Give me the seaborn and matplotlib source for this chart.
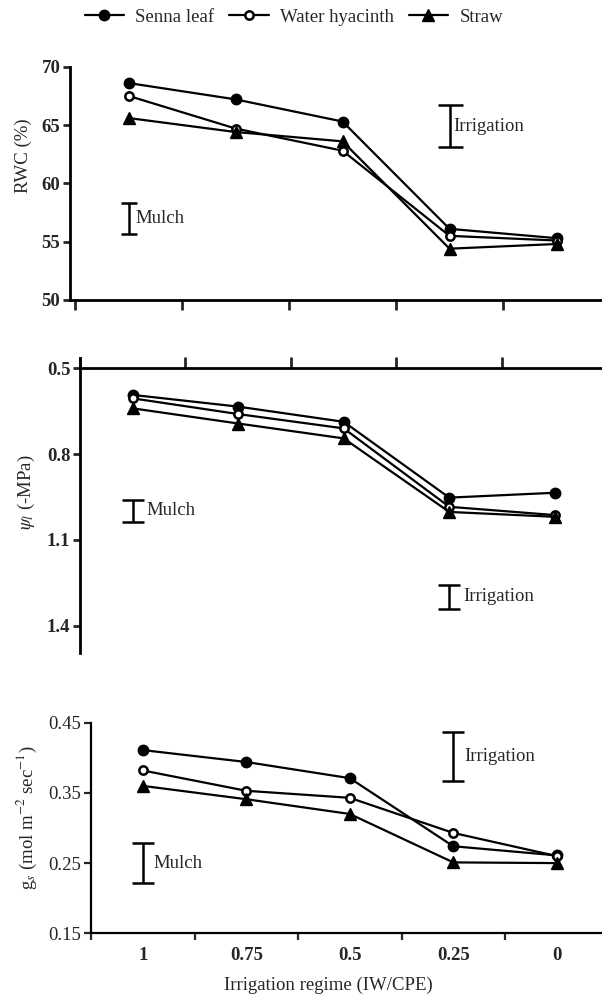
import matplotlib
matplotlib.use('Agg')
import matplotlib.pyplot as plt
import pandas as pd
import seaborn as sns

regimes = ['1', '0.75', '0.5', '0.25', '0']
mulches = ['Senna leaf', 'Water hyacinth', 'Straw']

rwc_senna = [68.6, 67.2, 65.3, 56.1, 55.3]
rwc_hyacinth = [67.5, 64.7, 62.8, 55.5, 55.1]
rwc_straw = [65.6, 64.4, 63.6, 54.4, 54.8]

psi_senna = [0.593, 0.634, 0.687, 0.952, 0.935]
psi_hyacinth = [0.605, 0.660, 0.710, 0.984, 1.013]
psi_straw = [0.640, 0.693, 0.745, 1.002, 1.019]

gs_senna = [0.411, 0.394, 0.371, 0.274, 0.261]
gs_hyacinth = [0.382, 0.353, 0.343, 0.293, 0.260]
gs_straw = [0.360, 0.341, 0.320, 0.251, 0.250]

# LSD bars: (centre, half length)
rwc_mulch_lsd = (57.0, 1.3)
rwc_irr_lsd = (64.9, 1.8)
psi_mulch_lsd = (0.998, 0.039)
psi_irr_lsd = (1.298, 0.042)
gs_mulch_lsd = (0.25, 0.029)
gs_irr_lsd = (0.402, 0.035)

rows = []
for var, series in [('rwc', [rwc_senna, rwc_hyacinth, rwc_straw]),
                    ('psi', [psi_senna, psi_hyacinth, psi_straw]),
                    ('gs', [gs_senna, gs_hyacinth, gs_straw])]:
    for m, vals in zip(mulches, series):
        for i, v in enumerate(vals):
            rows.append({'var': var, 'mulch': m, 'pos': i, 'value': v})
df = pd.DataFrame(rows)

sns.set_theme(style='ticks')
plt.rcParams['font.family'] = ['Liberation Serif', 'DejaVu Serif']
plt.rcParams['mathtext.fontset'] = 'stix'
plt.rcParams['axes.linewidth'] = 2
plt.rcParams['axes.edgecolor'] = 'black'

styles = {
    'Senna leaf': dict(marker='o', markersize=7.5, markerfacecolor='black', markeredgecolor='black', markeredgewidth=1),
    'Water hyacinth': dict(marker='o', markersize=6, markerfacecolor='white', markeredgecolor='black', markeredgewidth=1.8),
    'Straw': dict(marker='^', markersize=8, markerfacecolor='black', markeredgecolor='black', markeredgewidth=1),
}

fig = plt.figure(figsize=(6.02, 9.97), dpi=100)
W, H = 602.0, 997.0
ax1 = fig.add_axes([70 / W, 1 - 300 / H, 532 / W, 233.3 / H])
ax2 = fig.add_axes([80 / W, 1 - 653 / H, 522 / W, 295 / H])
ax3 = fig.add_axes([91 / W, 1 - 933.3 / H, 511 / W, 210.6 / H])

for ax, var in [(ax1, 'rwc'), (ax2, 'psi'), (ax3, 'gs')]:
    for m in mulches:
        sns.lineplot(data=df[(df['var'] == var) & (df['mulch'] == m)], x='pos', y='value',
                     color='black', linewidth=1.6, label=m, legend=False, ax=ax, **styles[m])
    ax.set_xlabel('')
    ax.set_xticks([-0.5, 0.5, 1.5, 2.5, 3.5])
    ax.set_xticklabels([])
    ax.spines['right'].set_visible(False)

def lsd(ax, x, bar, text, dx, cap=8):
    c, h = bar
    ax.errorbar([x], [c], yerr=[h], color='black', capsize=cap, elinewidth=1.8, capthick=1.8)
    ax.annotate(text, xy=(x, c), xytext=(dx, 0), textcoords='offset points',
                ha='left', va='center', fontsize=13.5)

# RWC
ax1.set_xlim(-0.547, 4.425)
ax1.set_ylim(50, 70)
ax1.spines['top'].set_visible(False)
ax1.set_yticks([50, 55, 60, 65, 70])
ax1.set_yticklabels(['50', '55', '60', '65', '70'], fontweight='bold')
ax1.tick_params(axis='y', length=5, width=2, labelsize=13.5, pad=2)
ax1.tick_params(axis='x', length=7, width=2)
ax1.set_ylabel('RWC (%)', fontsize=13.5, va='center')
ax1.yaxis.set_label_coords(-0.088, 0.617)
lsd(ax1, 0, rwc_mulch_lsd, 'Mulch', 5, cap=6)
lsd(ax1, 3, rwc_irr_lsd, 'Irrigation', 3, cap=9)

# leaf water potential
ax2.set_xlim(-0.5 - 0 / 105.5, 4.448)
ax2.set_ylim(1.495, 0.464)
ax2.spines['bottom'].set_visible(False)
ax2.spines['top'].set_position(('data', 0.5))
ax2.xaxis.tick_top()
ax2.set_yticks([0.5, 0.8, 1.1, 1.4])
ax2.set_yticklabels(['0.5', '0.8', '1.1', '1.4'], fontweight='bold')
ax2.tick_params(axis='y', length=5, width=2, labelsize=13.5, pad=2)
ax2.tick_params(axis='x', length=8, width=2)
ax2.set_ylabel(r'$\psi_l$ (-MPa)', fontsize=13.5, va='center')
ax2.yaxis.set_label_coords(-0.103, 0.546)
lsd(ax2, 0, psi_mulch_lsd, 'Mulch', 10)
lsd(ax2, 3, psi_irr_lsd, 'Irrigation', 10)

# stomatal conductance
ax3.set_xlim(-0.5, 4.437)
ax3.set_ylim(0.15, 0.45)
ax3.spines['top'].set_visible(False)
for s in ['left', 'bottom']:
    ax3.spines[s].set_linewidth(1.6)
ax3.set_yticks([0.15, 0.25, 0.35, 0.45])
ax3.set_yticklabels(['0.15', '0.25', '0.35', '0.45'])
ax3.tick_params(axis='y', length=5, width=1.6, labelsize=13.5, pad=2)
ax3.tick_params(axis='x', which='major', length=5, width=1.6)
ax3.set_xticks(range(len(regimes)), minor=True)
ax3.set_xticklabels(regimes, minor=True, fontweight='bold', fontsize=13.5)
ax3.tick_params(axis='x', which='minor', length=0, pad=10)
ax3.set_ylabel(r'g$_s$ (mol m$^{-2}$ sec$^{-1}$)', fontsize=13.5, va='center')
ax3.yaxis.set_label_coords(-0.125, 0.547)
ax3.set_xlabel('Irrigation regime (IW/CPE)', fontsize=13.5, va='center')
ax3.xaxis.set_label_coords(0.464, -0.245)
lsd(ax3, 0, gs_mulch_lsd, 'Mulch', 8)
lsd(ax3, 3, gs_irr_lsd, 'Irrigation', 8)

handles, labels = ax1.get_legend_handles_labels()
fig.legend(handles, labels, loc='center', bbox_to_anchor=(0.488, 0.983), ncol=3,
           frameon=False, fontsize=13.5, handlelength=2.1, handletextpad=0.6,
           columnspacing=0.8, borderaxespad=0)

fig.savefig('out.png', dpi=100)
